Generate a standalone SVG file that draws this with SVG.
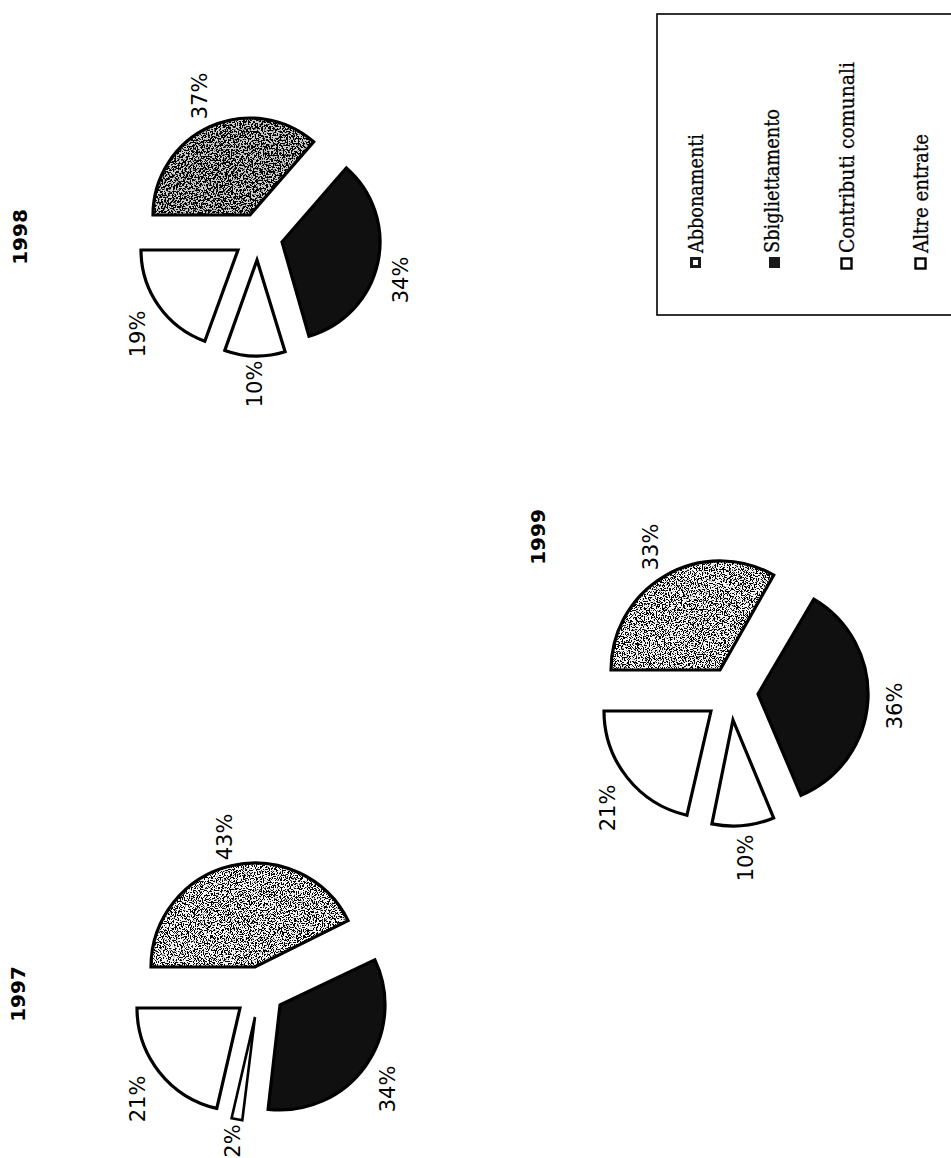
<svg xmlns="http://www.w3.org/2000/svg" width="951" height="1158" viewBox="0 0 951 1158">
<style>
.bg{fill:#ffffff}
.edge{fill:none;stroke:#000;stroke-width:3.2;stroke-linejoin:miter;stroke-miterlimit:6}
.white{fill:#ffffff}
.dark{fill:#101010}
.light{fill:#f6f6f6}
.mid{fill:#cfcfcf}
.pct{font-family:"DejaVu Sans","Liberation Sans",sans-serif;font-size:21px;fill:#000;text-anchor:middle}
.year{font-family:"DejaVu Sans","Liberation Sans",sans-serif;font-size:20px;font-weight:bold;fill:#000;text-anchor:middle}
.leg{font-family:"DejaVu Serif","Liberation Serif",serif;font-size:20px;fill:#000;stroke:#000;stroke-width:0.3}
.box{fill:none;stroke:#000;stroke-width:1.6}
</style>
<defs>
<filter id="speckLight" x="0" y="0" width="1" height="1">
<feTurbulence type="fractalNoise" baseFrequency="0.85" numOctaves="3" seed="4" result="n"/>
<feColorMatrix in="n" type="matrix" values="0 0 0 0 0  0 0 0 0 0  0 0 0 0 0  -22 0 0 0 11.0" result="dots"/>
<feComposite in="dots" in2="SourceAlpha" operator="in" result="d2"/>
<feMerge><feMergeNode in="SourceGraphic"/><feMergeNode in="d2"/></feMerge>
</filter>
<filter id="speckMid" x="0" y="0" width="1" height="1">
<feTurbulence type="fractalNoise" baseFrequency="0.6" numOctaves="3" seed="9" result="n"/>
<feColorMatrix in="n" type="matrix" values="0 0 0 0 0  0 0 0 0 0  0 0 0 0 0  -18 0 0 0 9.8" result="dots"/>
<feComposite in="dots" in2="SourceAlpha" operator="in" result="d2"/>
<feMerge><feMergeNode in="SourceGraphic"/><feMergeNode in="d2"/></feMerge>
</filter>
</defs>
<rect class="bg" x="0" y="0" width="951" height="1158"/>

<!-- 1998 -->
<g id="chart-1998">
<text class="year" transform="translate(27,237) rotate(-90)">1998</text>
<g id="s1998-abbonamenti">
<path class="mid" filter="url(#speckMid)" d="M250,215 L153,215 A97,97 0 0 1 313.6,141.8 Z"/>
<path class="edge" d="M250,215 L153,215 A97,97 0 0 1 313.6,141.8 Z"/>
</g>
<g id="s1998-sbigliettamento">
<path class="dark" d="M282,242 L346.3,168 A98,98 0 0 1 309,336.2 Z"/>
<path class="edge" d="M282,242 L346.3,168 A98,98 0 0 1 309,336.2 Z"/>
</g>
<g id="s1998-contributi">
<path class="white" d="M257,260 L285.1,351.8 A96,96 0 0 1 224.8,350.4 Z"/>
<path class="edge" d="M257,260 L285.1,351.8 A96,96 0 0 1 224.8,350.4 Z"/>
</g>
<g id="s1998-altre">
<path class="white" d="M238,250 L204.8,341.2 A97,97 0 0 1 141,250 Z"/>
<path class="edge" d="M238,250 L204.8,341.2 A97,97 0 0 1 141,250 Z"/>
</g>
<text class="pct" transform="translate(207,96) rotate(-90)">37%</text>
<text class="pct" transform="translate(408,280) rotate(-90)">34%</text>
<text class="pct" transform="translate(145,334) rotate(-90)">19%</text>
<text class="pct" transform="translate(262,384) rotate(-90)">10%</text>
</g>

<!-- 1999 -->
<g id="chart-1999">
<text class="year" transform="translate(545,537) rotate(-90)">1999</text>
<g id="s1999-abbonamenti">
<path class="light" filter="url(#speckLight)" d="M720,670 L611,670 A109,109 0 0 1 773.7,575.1 Z"/>
<path class="edge" d="M720,670 L611,670 A109,109 0 0 1 773.7,575.1 Z"/>
</g>
<g id="s1999-sbigliettamento">
<path class="dark" d="M758,694 L813.8,599.2 A110,110 0 0 1 801,795.3 Z"/>
<path class="edge" d="M758,694 L813.8,599.2 A110,110 0 0 1 801,795.3 Z"/>
</g>
<g id="s1999-contributi">
<path class="white" d="M733,720 L773.6,817.9 A106,106 0 0 1 711.9,823.9 Z"/>
<path class="edge" d="M733,720 L773.6,817.9 A106,106 0 0 1 711.9,823.9 Z"/>
</g>
<g id="s1999-altre">
<path class="white" d="M711,711 L686.9,815.3 A107,107 0 0 1 604,711 Z"/>
<path class="edge" d="M711,711 L686.9,815.3 A107,107 0 0 1 604,711 Z"/>
</g>
<text class="pct" transform="translate(658,547) rotate(-90)">33%</text>
<text class="pct" transform="translate(902,706) rotate(-90)">36%</text>
<text class="pct" transform="translate(615,808) rotate(-90)">21%</text>
<text class="pct" transform="translate(753,858) rotate(-90)">10%</text>
</g>

<!-- 1997 -->
<g id="chart-1997">
<text class="year" transform="translate(25,994) rotate(-90)">1997</text>
<g id="s1997-abbonamenti">
<path class="light" filter="url(#speckLight)" d="M255,967 L151,967 A104,104 0 0 1 348.1,920.6 Z"/>
<path class="edge" d="M255,967 L151,967 A104,104 0 0 1 348.1,920.6 Z"/>
</g>
<g id="s1997-sbigliettamento">
<path class="dark" d="M280,1005 L374.8,959.8 A105,105 0 0 1 268.1,1109.3 Z"/>
<path class="edge" d="M280,1005 L374.8,959.8 A105,105 0 0 1 268.1,1109.3 Z"/>
</g>
<g id="s1997-contributi">
<path class="white" d="M255,1017 L242.3,1120.2 A104,104 0 0 1 231.6,1118.3 Z"/>
<path class="edge" style="stroke-width:2.6" d="M255,1017 L242.3,1120.2 A104,104 0 0 1 231.6,1118.3 Z"/>
</g>
<g id="s1997-altre">
<path class="white" d="M240,1008 L216.8,1108.4 A103,103 0 0 1 137,1008 Z"/>
<path class="edge" d="M240,1008 L216.8,1108.4 A103,103 0 0 1 137,1008 Z"/>
</g>
<text class="pct" transform="translate(232,837) rotate(-90)">43%</text>
<text class="pct" transform="translate(395,1089) rotate(-90)">34%</text>
<text class="pct" transform="translate(145,1099) rotate(-90)">21%</text>
<text class="pct" transform="translate(240,1141) rotate(-90)">2%</text>
</g>

<!-- Legend -->
<g id="legend">
<rect class="box" x="657" y="14" width="310" height="301"/>
<g id="legend-abbonamenti">
<rect x="690" y="257" width="11" height="11" fill="#1a1a1a"/>
<rect x="693" y="260" width="5" height="5" fill="#ffffff"/>
<text class="leg" transform="translate(703,253) rotate(-90)" textLength="119" lengthAdjust="spacingAndGlyphs">Abbonamenti</text>
</g>
<g id="legend-sbigliettamento">
<rect x="769" y="257" width="11" height="11" fill="#1a1a1a"/>
<text class="leg" transform="translate(779,253) rotate(-90)" textLength="144" lengthAdjust="spacingAndGlyphs">Sbigliettamento</text>
</g>
<g id="legend-contributi">
<rect x="841.5" y="258.5" width="10" height="10" fill="#ffffff" stroke="#000" stroke-width="2.4"/>
<text class="leg" transform="translate(854,253) rotate(-90)" textLength="191" lengthAdjust="spacingAndGlyphs">Contributi comunali</text>
</g>
<g id="legend-altre">
<rect x="915.5" y="258.5" width="10" height="10" fill="#ffffff" stroke="#000" stroke-width="2.4"/>
<text class="leg" transform="translate(928,253) rotate(-90)" textLength="119" lengthAdjust="spacingAndGlyphs">Altre entrate</text>
</g>
</g>
</svg>
